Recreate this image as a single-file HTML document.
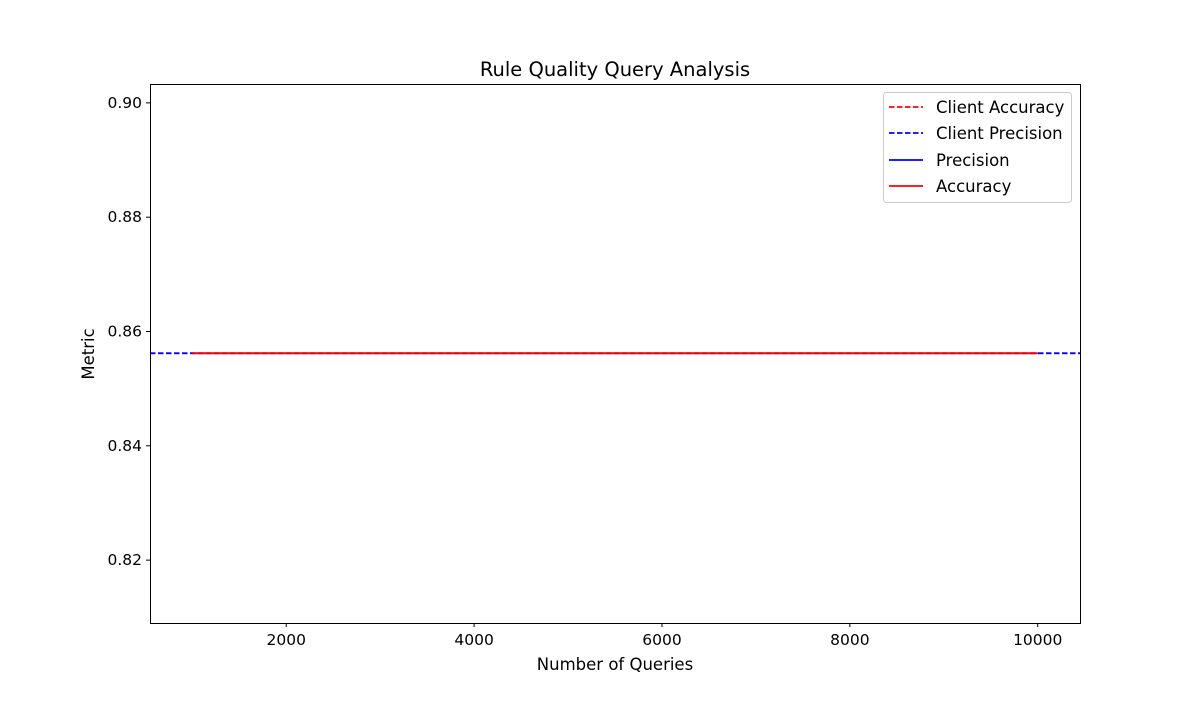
<!DOCTYPE html>
<html><head><meta charset="utf-8"><style>
body{margin:0;background:#fff;font-family:"Liberation Sans","DejaVu Sans",sans-serif;}
svg text{font-family:"DejaVu Sans","Liberation Sans",sans-serif;}
</style></head><body>
<svg id="chart" width="1200" height="700" xmlns="http://www.w3.org/2000/svg">
<rect width="1200" height="700" fill="#fff"/>
<text x="615" y="76" text-anchor="middle" font-size="19.5">Rule Quality Query Analysis</text>
<g id="grid"></g>
<g id="series"></g>
<rect x="150.5" y="84.5" width="930" height="539" fill="none" stroke="#000" stroke-width="1"/>
<text x="615" y="670" text-anchor="middle" font-size="16.5">Number of Queries</text>
<text x="94" y="354" text-anchor="middle" font-size="16.5" transform="rotate(-90 94 354)">Metric</text>
<g>
<rect x="883.5" y="92.5" width="188" height="110" rx="3" fill="#fff" stroke="#ccc"/>
<line x1="889" y1="107" x2="923" y2="107" stroke="red" stroke-width="1.8" stroke-dasharray="5.5,2.5"/>
<text x="936" y="113" font-size="16.5">Client Accuracy</text>
<line x1="889" y1="133" x2="923" y2="133" stroke="blue" stroke-width="1.8" stroke-dasharray="5.5,2.5"/>
<text x="936" y="139" font-size="16.5">Client Precision</text>
<line x1="889" y1="160" x2="923" y2="160" stroke="blue" stroke-width="1.8"/>
<text x="936" y="166" font-size="16.5">Precision</text>
<line x1="889" y1="186" x2="923" y2="186" stroke="red" stroke-width="1.8"/>
<text x="936" y="192" font-size="16.5">Accuracy</text>
</g>
</svg>
<script>
const xTicks=[2000,4000,6000,8000,10000];
const yTicks=[0.82,0.84,0.86,0.88,0.90];
const queries=[1000,10000];
const precision=[0.8562,0.8562];
const accuracy=[0.8562,0.8562];
const clientAccuracy=[0.8562];
const clientPrecision=[0.8562];
const X0=150,X1=1080,Y0=84,Y1=623;
const xMin=550,xMax=10450,yMin=0.8090,yMax=0.9033;
const sx=v=>X0+(v-xMin)/(xMax-xMin)*(X1-X0);
const sy=v=>Y1-(v-yMin)/(yMax-yMin)*(Y1-Y0);
const NS="http://www.w3.org/2000/svg";
const g=document.getElementById('grid'),s=document.getElementById('series');
function mk(t,a,p){const e=document.createElementNS(NS,t);for(const k in a)e.setAttribute(k,a[k]);p.appendChild(e);return e;}
xTicks.forEach(v=>{const x=sx(v);
 const l=mk('line',{x1:x,x2:x,y1:Y1,y2:Y1+4,stroke:'#000'},g);
 
 
 const t=mk('text',{x:x,y:Y1+22,'text-anchor':'middle','font-size':15.5},g);t.textContent=v;
 
 });
yTicks.forEach(v=>{const y=sy(v);
 const l=mk('line',{x1:X0-4,x2:X0,y1:y,y2:y,stroke:'#000'},g);
 
 
 const t=mk('text',{x:X0-8,y:y+5,'text-anchor':'end','font-size':15.5},g);t.textContent=v.toFixed(2);
 
 });
const ca=mk('line',{x1:X0,x2:X1,y1:sy(clientAccuracy[0]),y2:sy(clientAccuracy[0]),stroke:'red','stroke-width':1.8,'stroke-dasharray':'5.5,2.5'},s);


const cp=mk('line',{x1:X0,x2:X1,y1:sy(clientPrecision[0]),y2:sy(clientPrecision[0]),stroke:'blue','stroke-width':1.8,'stroke-dasharray':'5.5,2.5'},s);


function path(ys){return queries.map((q,i)=>(i?'L':'M')+sx(q)+','+sy(ys[i])).join(' ');}
const pp=mk('path',{d:path(precision),stroke:'blue','stroke-width':1.8,fill:'none'},s);


const ap=mk('path',{d:path(accuracy),stroke:'red','stroke-width':1.8,fill:'none'},s);


</script>
</body></html>
